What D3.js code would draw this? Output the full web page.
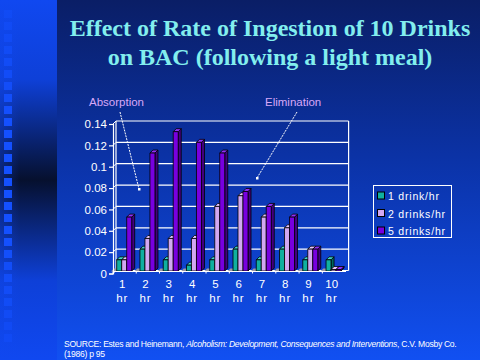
<!DOCTYPE html>
<html><head><meta charset="utf-8">
<script src="https://cdn.jsdelivr.net/npm/d3@7"></script>
<style>html,body{margin:0;padding:0;background:#0a1e68;overflow:hidden}svg{display:block}</style>
</head><body>
<svg id="c" width="480" height="360"></svg>
<script>
const categories = ["1","2","3","4","5","6","7","8","9","10"];
const seriesNames = ["1 drink/hr","2 drinks/hr","5 drinks/hr"];
const oneDrink   = [0.01,0.02,0.01,0.005,0.01,0.02,0.01,0.02,0.01,0.01];
const twoDrinks  = [0.01,0.03,0.03,0.03,0.06,0.07,0.05,0.04,0.02,0];
const fiveDrinks = [0.05,0.11,0.13,0.12,0.11,0.074,0.06,0.05,0.02,0];
const yTicks = [0,0.02,0.04,0.06,0.08,0.1,0.12,0.14];
const titleLines = ["Effect of Rate of Ingestion of 10 Drinks","on BAC (following a light meal)"];

const series = [oneDrink, twoDrinks, fiveDrinks];
const colors = [
  {front:"#10b0a0", top:"#40d8c8", side:"#006a5c"},
  {front:"#d2a8f2", top:"#e6c8ff", side:"#9c7cc0"},
  {front:"#7800e0", top:"#9030f8", side:"#42007e"}
];

const svg = d3.select("#c");
const defs = svg.append("defs");
const bg = defs.append("linearGradient").attr("id","bg").attr("x1",0).attr("y1",0).attr("x2",0).attr("y2",1);
bg.append("stop").attr("offset","0").attr("stop-color","#0a1e66");
bg.append("stop").attr("offset","0.45").attr("stop-color","#0b33a8");
bg.append("stop").attr("offset","1").attr("stop-color","#1150f2");
const strip = defs.append("linearGradient").attr("id","strip").attr("x1",0).attr("y1",0).attr("x2",0).attr("y2",1);
strip.append("stop").attr("offset","0").attr("stop-color","#1048f0");
strip.append("stop").attr("offset","0.22").attr("stop-color","#0e40d8");
strip.append("stop").attr("offset","0.5").attr("stop-color","#06102e");
strip.append("stop").attr("offset","0.78").attr("stop-color","#0e40d8");
strip.append("stop").attr("offset","1").attr("stop-color","#1048f0");
const stripH = defs.append("linearGradient").attr("id","stripH").attr("x1",0).attr("y1",0).attr("x2",1).attr("y2",0);
stripH.append("stop").attr("offset","0").attr("stop-color","#1048f0").attr("stop-opacity",0.35);
stripH.append("stop").attr("offset","0.35").attr("stop-color","#1048f0").attr("stop-opacity",0);

svg.append("rect").attr("width",480).attr("height",360).attr("fill","url(#bg)");
svg.append("rect").attr("width",57).attr("height",360).attr("fill","url(#strip)");
svg.append("rect").attr("width",57).attr("height",360).attr("fill","url(#stripH)");
const sqY = d3.range(10, 340, 12);
svg.append("g").selectAll("rect").data(sqY).join("rect")
  .attr("x",4).attr("y",d=>d).attr("width",8).attr("height",8)
  .attr("fill","#1450ff")
  .attr("opacity",d=>Math.min(1, 0.35 + 0.65*(1-Math.abs(d-175)/175)*1.6));

// title
svg.append("g").selectAll("text").data(titleLines).join("text")
  .attr("x",270).attr("y",(d,i)=>36+i*28.5).attr("text-anchor","middle")
  .attr("font-family","'Liberation Serif','Times New Roman',serif").attr("font-weight","bold")
  .attr("font-size",24).attr("fill","#82eeee").text(d=>d);

// scales
const x = d3.scaleBand().domain(categories).range([116,348.6]).paddingInner(0);
const y = d3.scaleLinear().domain([0,0.14]).range([270.5,121]);
const DX = 3, DY = -3, BW = 5;

// back wall & gridlines
const grid = svg.append("g").attr("stroke","#ffffff").attr("stroke-width",1.2);
grid.selectAll("line.g").data(yTicks).join("line").attr("class","g")
  .attr("x1",116).attr("x2",348.6).attr("y1",d=>y(d)).attr("y2",d=>y(d));
grid.append("line").attr("x1",116).attr("x2",116).attr("y1",y(0)).attr("y2",y(0.14));
grid.append("line").attr("x1",348.6).attr("x2",348.6).attr("y1",y(0)).attr("y2",y(0.14));
grid.selectAll("line.d").data(yTicks).join("line").attr("class","d")
  .attr("x1",113).attr("x2",116).attr("y1",d=>y(d)+3).attr("y2",d=>y(d)).attr("stroke-width",1);

// floor bits
svg.append("g").selectAll("path").data(categories).join("path")
  .attr("d",c=>{const x0=x(c)-5;return `M${x0},${y(0)+1}L${x0+5},${y(0)+1}L${x0+8},${y(0)-2}L${x0+3},${y(0)-2}Z`;})
  .attr("fill","#9a9aa8");

// bars
const barData = [];
categories.forEach((c,ci)=>series.forEach((s,si)=>barData.push({c,si,v:s[ci]})));
const bars = svg.append("g").attr("stroke","#000").attr("stroke-width",0.8).attr("stroke-linejoin","round");
barData.forEach(d=>{
  const x0 = x(d.c)+0.7+d.si*BW;
  const yt = Math.min(y(d.v), y(0)-1);
  const yb = y(0)+0.5;
  const col = colors[d.si];
  bars.append("path").attr("d",`M${x0+BW},${yt}L${x0+BW+DX},${yt+DY}L${x0+BW+DX},${yb+DY}L${x0+BW},${yb}Z`).attr("fill",col.side);
  bars.append("path").attr("d",`M${x0},${yt}L${x0+DX},${yt+DY}L${x0+BW+DX},${yt+DY}L${x0+BW},${yt}Z`).attr("fill",col.top);
  bars.append("rect").attr("x",x0).attr("y",yt).attr("width",BW).attr("height",yb-yt).attr("fill",col.front);
});

// y axis
const yAxis = d3.axisLeft(y.copy().range([273.5,124])).tickValues(yTicks).tickSize(4).tickPadding(2).tickFormat(d=>d);
const ya = svg.append("g").attr("transform","translate(113,0)").call(yAxis);
ya.selectAll("path,line").attr("stroke","#fff").attr("stroke-width",1.2);
ya.selectAll("text").attr("fill","#fff").attr("font-family","Arial,'Liberation Sans',sans-serif").attr("font-size",11.5);

// x axis
svg.append("line").attr("x1",113).attr("x2",346).attr("y1",y(0)+1).attr("y2",y(0)+1).attr("stroke","#fff").attr("stroke-width",1.2);
svg.append("g").selectAll("line").data(categories).join("line")
  .attr("x1",c=>x(c)-3).attr("x2",c=>x(c)-3).attr("y1",y(0)+1).attr("y2",y(0)+3).attr("stroke","#fff");
const xl = svg.append("g").attr("fill","#fff").attr("font-family","Arial,'Liberation Sans',sans-serif").attr("font-size",11.5).attr("text-anchor","middle");
xl.selectAll("text.n").data(categories).join("text").attr("class","n")
  .attr("x",c=>x(c)+6.3).attr("y",288).text(c=>c);
xl.selectAll("text.h").data(categories).join("text").attr("class","h")
  .attr("x",c=>x(c)+6.3).attr("y",302).attr("letter-spacing",1).text("hr");

// annotations
const ann = svg.append("g").attr("font-family","Arial,'Liberation Sans',sans-serif").attr("font-size",11.5).attr("fill","#d8a8f8");
ann.append("text").attr("x",89).attr("y",106).text("Absorption");
ann.append("text").attr("x",265).attr("y",106).text("Elimination");
const arr = svg.append("g").attr("stroke","#fff").attr("stroke-width",1).attr("stroke-dasharray","2,1");
arr.append("line").attr("x1",120).attr("y1",112).attr("x2",139).attr("y2",189);
arr.append("line").attr("x1",297).attr("y1",112).attr("x2",257).attr("y2",178);
svg.append("rect").attr("x",138).attr("y",188).attr("width",2.5).attr("height",2.5).attr("fill","#fff");
svg.append("rect").attr("x",256).attr("y",177).attr("width",2.5).attr("height",2.5).attr("fill","#fff");

// legend
const lg = svg.append("g");
lg.append("rect").attr("x",373.5).attr("y",185.5).attr("width",78).attr("height",52).attr("fill","none").attr("stroke","#fff").attr("stroke-width",1);
const li = lg.selectAll("g").data(seriesNames).join("g").attr("transform",(d,i)=>`translate(0,${192+i*17.5})`);
li.append("rect").attr("x",377.5).attr("y",0).attr("width",7).attr("height",7).attr("fill",(d,i)=>colors[i].front).attr("stroke","#000").attr("stroke-width",1);
li.append("text").attr("x",388).attr("y",8).attr("fill","#fff").attr("font-family","Arial,'Liberation Sans',sans-serif").attr("font-size",10.5).attr("letter-spacing",0.8).text(d=>d);

// source
const src = svg.append("text").attr("x",64).attr("y",347).attr("fill","#fff")
  .attr("font-family","Arial,'Liberation Sans',sans-serif").attr("font-size",8.6).attr("letter-spacing",-0.3);
src.append("tspan").text("SOURCE: Estes and Heinemann, ");
src.append("tspan").attr("font-style","italic").text("Alcoholism: Development, Consequences and Interventions");
src.append("tspan").text(", C.V. Mosby Co.");
svg.append("text").attr("x",64).attr("y",357).attr("fill","#fff")
  .attr("font-family","Arial,'Liberation Sans',sans-serif").attr("font-size",8.6).attr("letter-spacing",-0.3).text("(1986) p 95");
</script>
</body></html>
